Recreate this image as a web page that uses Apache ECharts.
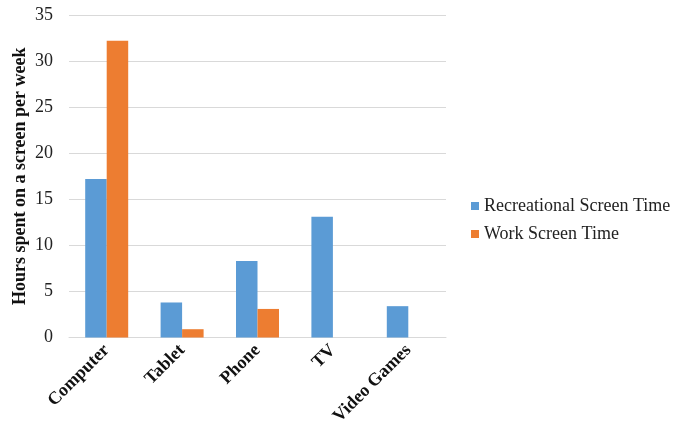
<!DOCTYPE html>
<html>
<head>
<meta charset="utf-8">
<script src="https://cdn.jsdelivr.net/npm/echarts@6/dist/echarts.min.js"></script>
<style>
  html, body { margin: 0; padding: 0; background: #fff; }
  #chart { width: 684px; height: 429px; }
</style>
</head>
<body>
<div id="chart"></div>
<script>
// Weekly screen time by device
const categories = ['Computer', 'Tablet', 'Phone', 'TV', 'Video Games'];
const recreational = [17.2, 3.8, 8.3, 13.1, 3.4];
const work = [32.2, 0.9, 3.1, null, null];
const seriesNames = ['Recreational Screen Time', 'Work Screen Time'];
const yTicks = { min: 0, max: 35, interval: 5 };

const serif = '"Liberation Serif", "Times New Roman", serif';
const chart = echarts.init(document.getElementById('chart'));

chart.setOption({
  animation: false,
  color: ['#5b9bd5', '#ed7d31'],
  grid: { left: 69, right: 238, top: 15, bottom: 91.5, containLabel: false },
  legend: {
    orient: 'vertical',
    left: 466,
    top: 192,
    itemWidth: 8,
    itemHeight: 8,
    itemGap: 10,
    icon: 'rect',
    textStyle: { fontFamily: serif, fontSize: 18, color: '#222' },
    data: seriesNames
  },
  xAxis: {
    type: 'category',
    data: categories,
    axisLine: { show: true, lineStyle: { color: '#d9d9d9', width: 1 } },
    axisTick: { show: false },
    axisLabel: {
      rotate: 45,
      interval: 0,
      margin: 10,
      fontFamily: serif,
      fontSize: 18,
      fontWeight: 'bold',
      color: '#111'
    }
  },
  yAxis: {
    type: 'value',
    min: yTicks.min,
    max: yTicks.max,
    interval: yTicks.interval,
    name: 'Hours spent on a screen per week',
    nameLocation: 'middle',
    nameGap: 40,
    nameMoveOverlap: false,
    nameTextStyle: { fontFamily: serif, fontSize: 18, fontWeight: 'bold', color: '#111' },
    axisLine: { show: false },
    axisTick: { show: false },
    axisLabel: { fontFamily: serif, fontSize: 18, color: '#222', margin: 16 },
    splitLine: { lineStyle: { color: '#d9d9d9', width: 1 } }
  },
  series: [
    { name: seriesNames[0], type: 'bar', data: recreational, barWidth: 21.5, barGap: '0%' },
    { name: seriesNames[1], type: 'bar', data: work, barWidth: 21.5, barGap: '0%' }
  ]
});
</script>
</body>
</html>
